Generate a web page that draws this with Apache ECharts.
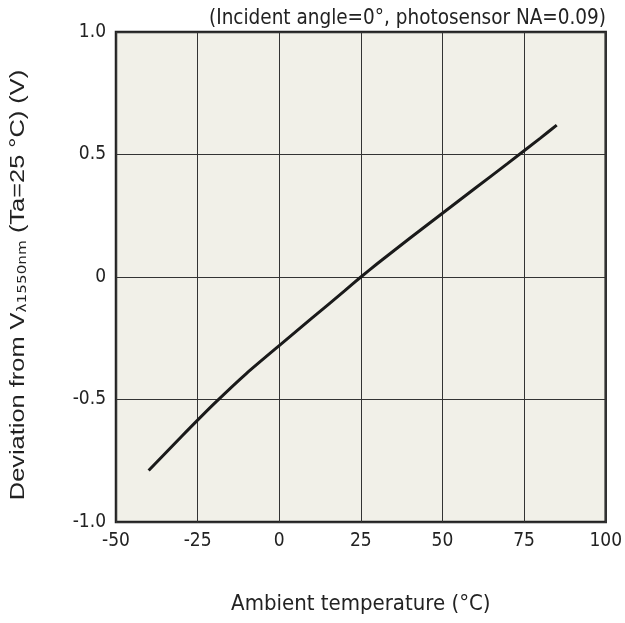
<!DOCTYPE html>
<html><head><meta charset="utf-8">
<script src="https://cdn.jsdelivr.net/npm/echarts@6/dist/echarts.min.js"></script>
<style>html,body{margin:0;padding:0;background:#fff}#c{width:625px;height:623px}</style>
</head><body><div id="c"></div>
<script>
const temperature = [-40, -30, -20, -10, 0, 10, 20, 25, 30, 40, 50, 60, 70, 80, 85];
const deviation = [-0.79, -0.652, -0.518, -0.393, -0.28, -0.168, -0.057, 0, 0.054, 0.158, 0.26, 0.362, 0.464, 0.567, 0.62];
const xTicks = [-50, -25, 0, 25, 50, 75, 100];
const yTickLabels = {"1": "1.0", "0.5": "0.5", "0": "0", "-0.5": "-0.5", "-1": "-1.0"};
const noteText = "(Incident angle=0°, photosensor NA=0.09)";
const xName = "Ambient temperature (°C)";
const yNameMain = "Deviation from V";
const yNameSub = "λ1550nm";
const yNameTail = " (Ta=25 °C) (V)";

const FONT = "'DejaVu Sans Condensed', 'DejaVu Sans'";
const YFONT = "'Liberation Sans', Arial";
const chart = echarts.init(document.getElementById('c'));
chart.setOption({
  animation: false,
  title: {
    text: noteText, right: 14, top: 3,
    textStyle: {fontFamily: FONT, fontSize: 20.5, fontWeight: 'normal', color: '#222'}
  },
  graphic: [{
    type: 'text', x: 18, y: 285, rotation: Math.PI / 2, scaleX: 1.27,
    style: {
      text: '{a|' + yNameMain + '}{s|' + yNameSub + '}{a|' + yNameTail + '}',
      align: 'center', verticalAlign: 'middle',
      rich: {
        a: {fontFamily: YFONT, fontSize: 20, fill: '#222', color: '#222'},
        s: {fontFamily: "'DejaVu Sans'", fontSize: 12, fill: '#222', color: '#222', verticalAlign: 'bottom', padding: [10, 0, 0, 0]}
      }
    }
  }],
  grid: {left: 116, right: 18, top: 32, bottom: 101, show: true,
    backgroundColor: '#f1f0e8', borderColor: '#222', borderWidth: 2.5},
  xAxis: {
    type: 'value', min: -50, max: 100, interval: 25,
    name: xName, nameLocation: 'middle', nameGap: 71,
    nameTextStyle: {fontFamily: FONT, fontSize: 22, color: '#222'},
    axisLine: {show: false}, axisTick: {show: false},
    axisLabel: {fontFamily: FONT, fontSize: 19, color: '#222', margin: 10},
    splitLine: {show: true, lineStyle: {color: '#333', width: 1}}
  },
  yAxis: {
    type: 'value', min: -1, max: 1, interval: 0.5,
    axisLine: {show: false}, axisTick: {show: false},
    axisLabel: {fontFamily: FONT, fontSize: 19, color: '#222', margin: 10,
      formatter: v => yTickLabels[String(v)] ?? String(v)},
    splitLine: {show: true, lineStyle: {color: '#333', width: 1}}
  },
  series: [{
    type: 'line', smooth: 0.15, symbol: 'none',
    data: temperature.map((t, i) => [t, deviation[i]]),
    lineStyle: {color: '#1a1a1a', width: 3}
  }]
});
</script></body></html>
